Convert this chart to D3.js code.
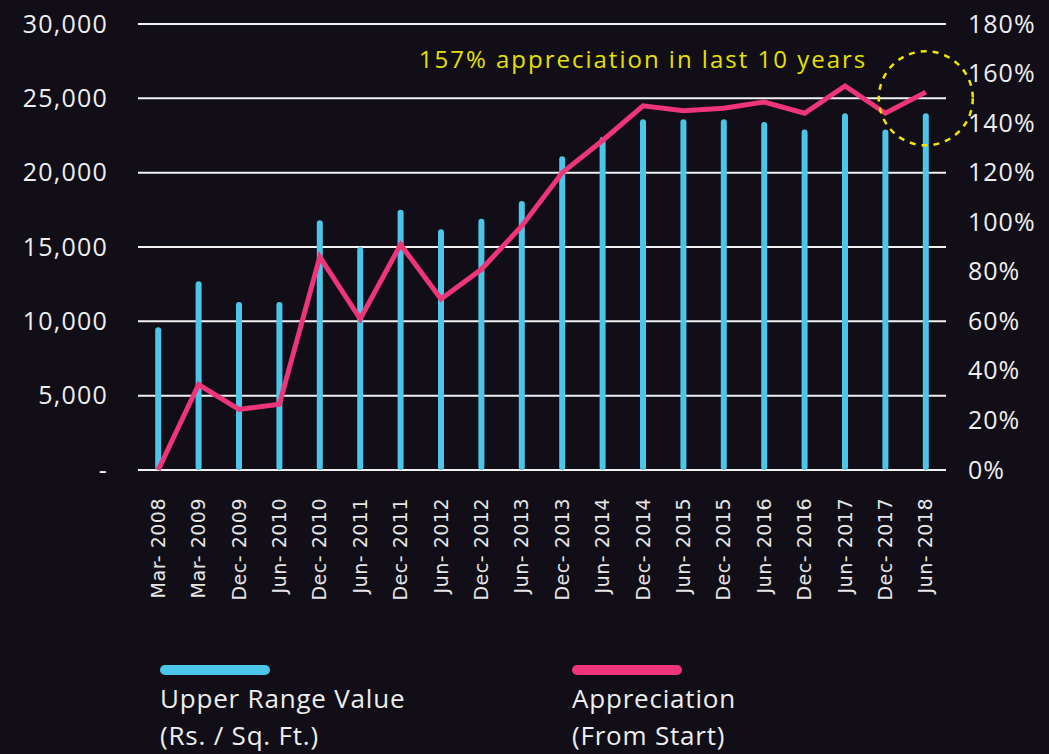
<!DOCTYPE html>
<html>
<head>
<meta charset="utf-8">
<script src="https://cdn.jsdelivr.net/npm/d3@7"></script>
<style>
  html, body { margin: 0; padding: 0; background: #110e17; }
  svg { display: block; }
</style>
</head>
<body>
<svg id="chart"></svg>
<script>
// Data
const periods = ['Mar-2008', 'Mar-2009', 'Dec-2009', 'Jun-2010', 'Dec-2010', 'Jun-2011', 'Dec-2011',
    'Jun-2012', 'Dec-2012', 'Jun-2013', 'Dec-2013', 'Jun-2014', 'Dec-2014', 'Jun-2015', 'Dec-2015',
    'Jun-2016', 'Dec-2016', 'Jun-2017', 'Dec-2017', 'Jun-2018'];
const upperValue = [9600, 12700, 11300, 11300, 16800, 15000, 17500, 16200, 16900, 18100, 21100,
    22400, 23600, 23600, 23600, 23400, 22900, 24000, 22900, 24000];
const appreciation = [0, 34.5, 24.5, 26.5, 86, 61, 91, 69, 81, 98.5, 120, 133, 147, 145, 146,
    148.5, 144, 155, 144, 152.5];
const leftTicks = [0, 5000, 10000, 15000, 20000, 25000, 30000];
const rightTicks = [0, 20, 40, 60, 80, 100, 120, 140, 160, 180];

const width = 1049, height = 754;
const margin = { top: 24, right: 103, bottom: 284, left: 138 };

const svg = d3.select('#chart').attr('width', width).attr('height', height);
const font = '"Open Sans", Lato, sans-serif';

const x = d3.scaleBand().domain(periods).range([margin.left, width - margin.right]);
const y = d3.scaleLinear().domain([0, 30000]).range([height - margin.bottom, margin.top]);
const yPct = d3.scaleLinear().domain([0, 180]).range([height - margin.bottom, margin.top]);
const cx = d => x(d) + x.bandwidth() / 2;

// Gridlines
svg.append('g')
    .selectAll('line')
    .data(leftTicks)
    .join('line')
    .attr('x1', margin.left)
    .attr('x2', width - margin.right)
    .attr('y1', d => y(d))
    .attr('y2', d => y(d))
    .attr('stroke', '#f2f2f2')
    .attr('stroke-width', 2);

// Left axis
const leftAxis = svg.append('g')
    .attr('transform', `translate(${margin.left - 30},0)`)
    .call(d3.axisLeft(y).tickValues(leftTicks).tickSize(0)
        .tickFormat(d => d === 0 ? '-' : d3.format(',')(d)));
leftAxis.select('.domain').remove();
leftAxis.selectAll('text')
    .attr('fill', '#eeeeee')
    .attr('x', 0)
    .style('font-family', font)
    .style('font-size', '25px')
    .style('letter-spacing', '1.2px');

// Right axis
const rightAxis = svg.append('g')
    .attr('transform', `translate(${width - margin.right + 22},0)`)
    .call(d3.axisRight(yPct).tickValues(rightTicks).tickSize(0).tickFormat(d => d + '%'));
rightAxis.select('.domain').remove();
rightAxis.selectAll('text')
    .attr('fill', '#eeeeee')
    .attr('x', 0)
    .style('font-family', font)
    .style('font-size', '25px')
    .style('letter-spacing', '1px');

// Bottom labels
const bottomAxis = svg.append('g')
    .attr('transform', `translate(0,${height - margin.bottom})`)
    .call(d3.axisBottom(x).tickSize(0));
bottomAxis.select('.domain').remove();
bottomAxis.selectAll('text')
    .attr('fill', '#e6e6e6')
    .attr('transform', 'rotate(-90)')
    .attr('x', -28)
    .attr('y', 0)
    .attr('dy', '0.35em')
    .attr('text-anchor', 'end')
    .style('font-family', '"DejaVu Sans", sans-serif')
    .style('font-size', '19px')
    .style('letter-spacing', '0.5px')
    .text(d => d.replace('-', '- '));

// Bars as rounded thick lines
svg.append('g')
    .selectAll('line')
    .data(upperValue)
    .join('line')
    .attr('x1', (d, i) => cx(periods[i]))
    .attr('x2', (d, i) => cx(periods[i]))
    .attr('y1', y(0) - 3)
    .attr('y2', d => y(d) + 3)
    .attr('stroke', '#4cc6e8')
    .attr('stroke-width', 6)
    .attr('stroke-linecap', 'round');

// Appreciation line
const line = d3.line()
    .x((d, i) => cx(periods[i]))
    .y(d => yPct(d));
svg.append('path')
    .datum(appreciation)
    .attr('d', line)
    .attr('fill', 'none')
    .attr('stroke', '#ee3579')
    .attr('stroke-width', 5)
    .attr('stroke-linejoin', 'miter');

// Annotation
const last = periods[periods.length - 1];
svg.append('text')
    .attr('x', x('Dec-2014') + x.bandwidth() / 2)
    .attr('y', 68)
    .attr('text-anchor', 'middle')
    .attr('fill', '#e6e000')
    .style('font-family', font)
    .style('font-size', '24px')
    .style('letter-spacing', '2px')
    .text('157% appreciation in last 10 years');

svg.append('circle')
    .attr('cx', cx(last))
    .attr('cy', y(25000))
    .attr('r', 47)
    .attr('fill', 'none')
    .attr('stroke', '#f0e600')
    .attr('stroke-width', 2.5)
    .attr('stroke-dasharray', '6 6');

// Legend
const legend = [
    { color: '#4cc6e8', lines: ['Upper Range Value', '(Rs. / Sq. Ft.)'], x: 160 },
    { color: '#ee3579', lines: ['Appreciation', '(From Start)'], x: 572 }
];
const lg = svg.append('g').selectAll('g').data(legend).join('g');
lg.append('line')
    .attr('x1', d => d.x + 5)
    .attr('x2', d => d.x + 105)
    .attr('y1', 670)
    .attr('y2', 670)
    .attr('stroke', d => d.color)
    .attr('stroke-width', 10)
    .attr('stroke-linecap', 'round');
lg.each(function(d) {
    d3.select(this).selectAll('text')
        .data(d.lines)
        .join('text')
        .attr('x', d.x)
        .attr('y', (t, i) => 708 + i * 37)
        .attr('fill', '#eeeeee')
        .style('font-family', font)
        .style('font-size', '26px')
        .style('letter-spacing', '0.8px')
        .text(t => t);
});
</script>
</body>
</html>
